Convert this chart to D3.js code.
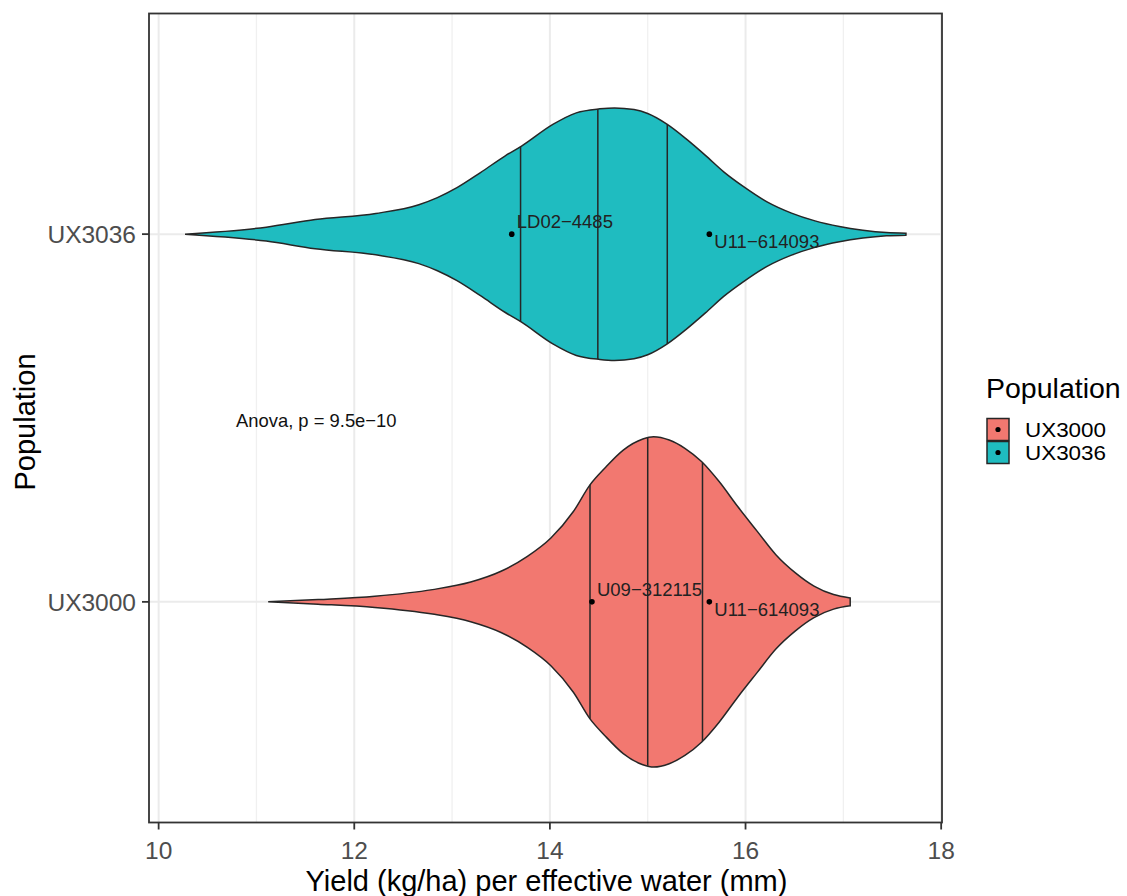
<!DOCTYPE html>
<html>
<head>
<meta charset="utf-8">
<script src="https://cdn.jsdelivr.net/npm/d3@7"></script>
<style>
  html, body { margin: 0; padding: 0; background: #fff; }
  svg { display: block; font-family: "Liberation Sans", Arial, Helvetica, sans-serif; }
</style>
</head>
<body>
<svg id="chart" width="1127" height="896"></svg>
<script>
// ---------------- data ----------------
const categories = ["UX3036", "UX3000"];          // top to bottom
const fillColors = ["#1FBCC0", "#F27870"];

// violin outlines: x value and scaled density (1 = widest violin)
const ux3036X = [10.27, 11.10, 11.60, 12.22, 12.66, 12.85, 13.05, 13.29, 13.54, 13.71, 14.03, 14.27, 14.51, 14.66, 14.86, 15.00, 15.20, 15.39, 15.59, 15.78, 15.98, 16.22, 16.47, 16.71, 16.96, 17.20, 17.44, 17.64];
const ux3036W = [0.000, 0.042, 0.088, 0.125, 0.178, 0.221, 0.281, 0.372, 0.472, 0.532, 0.663, 0.733, 0.757, 0.763, 0.753, 0.729, 0.663, 0.577, 0.476, 0.375, 0.287, 0.195, 0.127, 0.080, 0.046, 0.024, 0.010, 0.006];

const ux3000X = [11.12, 11.63, 12.21, 12.80, 13.19, 13.50, 13.77, 14.01, 14.24, 14.41, 14.56, 14.75, 14.95, 15.06, 15.22, 15.38, 15.55, 15.73, 15.92, 16.12, 16.31, 16.51, 16.70, 16.90, 17.07];
const ux3000W = [0.000, 0.014, 0.034, 0.074, 0.120, 0.185, 0.275, 0.386, 0.546, 0.707, 0.807, 0.917, 0.984, 0.998, 0.978, 0.928, 0.848, 0.727, 0.576, 0.426, 0.285, 0.175, 0.095, 0.044, 0.024];

const quantiles3036 = [13.70, 14.49, 15.20];
const quantiles3000 = [14.41, 15.00, 15.56];

const labelNames = ["LD02\u22124485", "U11\u2212614093", "U09\u2212312115", "U11\u2212614093"];
const labelPops  = ["UX3036", "UX3036", "UX3000", "UX3000"];
const labelVals  = [13.61, 15.63, 14.43, 15.63];
const labelSide  = ["above", "below", "above", "below"];

const xMajorTicks = [10, 12, 14, 16, 18];
const xMinorTicks = [11, 13, 15, 17];
const legendLabels = ["UX3000", "UX3036"];
const legendColors = ["#F27870", "#1FBCC0"];
const anovaText = "Anova, p = 9.5e\u221210";

// ---------------- layout ----------------
const svg = d3.select("#chart");
const P = { left: 149, top: 13.5, right: 942, bottom: 822.5 };

const allX = ux3036X.concat(ux3000X);
const xmin = d3.min(allX), xmax = d3.max(allX), pad = (xmax - xmin) * 0.05;
const x = d3.scaleLinear().domain([xmin - pad, xmax + pad]).range([P.left, P.right]);
const y = d3.scalePoint().domain(categories).range([P.top, P.bottom]).padding(0.6);
const halfMax = 0.45 * y.step();

// grid
const g = svg.append("g");
g.selectAll(".minor").data(xMinorTicks).enter().append("line")
  .attr("x1", d => x(d)).attr("x2", d => x(d)).attr("y1", P.top).attr("y2", P.bottom)
  .attr("stroke", "#F0F0F0").attr("stroke-width", 1.3);
g.selectAll(".major").data(xMajorTicks).enter().append("line")
  .attr("x1", d => x(d)).attr("x2", d => x(d)).attr("y1", P.top).attr("y2", P.bottom)
  .attr("stroke", "#EBEBEB").attr("stroke-width", 2);
g.selectAll(".ymajor").data(categories).enter().append("line")
  .attr("x1", P.left).attr("x2", P.right).attr("y1", d => y(d)).attr("y2", d => y(d))
  .attr("stroke", "#EBEBEB").attr("stroke-width", 2);

// violins
const violins = [
  { pop: "UX3036", xs: ux3036X, ws: ux3036W, q: quantiles3036, fill: fillColors[0] },
  { pop: "UX3000", xs: ux3000X, ws: ux3000W, q: quantiles3000, fill: fillColors[1] }
];
violins.forEach(v => {
  const cy = y(v.pop);
  const pts = v.xs.map((xv, i) => ({ v: xv, w: v.ws[i] }));
  const area = d3.area()
    .x(d => x(d.v))
    .y0(d => cy - d.w * halfMax)
    .y1(d => cy + d.w * halfMax)
    .curve(d3.curveMonotoneX);
  svg.append("path").attr("d", area(pts))
    .attr("fill", v.fill).attr("stroke", "#262626").attr("stroke-width", 1.5);
  const interp = val => {
    for (let i = 0; i < v.xs.length - 1; i++) {
      if (val >= v.xs[i] && val <= v.xs[i + 1]) {
        const t = (val - v.xs[i]) / (v.xs[i + 1] - v.xs[i]);
        return v.ws[i] + t * (v.ws[i + 1] - v.ws[i]);
      }
    }
    return 0;
  };
  svg.selectAll(null).data(v.q).enter().append("line")
    .attr("x1", d => x(d)).attr("x2", d => x(d))
    .attr("y1", d => cy - interp(d) * halfMax).attr("y2", d => cy + interp(d) * halfMax)
    .attr("stroke", "#262626").attr("stroke-width", 1.5);
});

// points and labels
labelNames.forEach((name, i) => {
  const px = x(labelVals[i]), py = y(labelPops[i]);
  svg.append("circle").attr("cx", px).attr("cy", py).attr("r", 2.8).attr("fill", "#000");
  svg.append("text").attr("x", px + 5).attr("y", labelSide[i] === "above" ? py - 6 : py + 14)
    .attr("font-size", 18.5).attr("fill", "#222").text(name);
});

// annotation
svg.append("text").attr("x", 236).attr("y", 427).attr("font-size", 18.4).attr("fill", "#111").text(anovaText);

// panel border
svg.append("rect").attr("x", P.left).attr("y", P.top)
  .attr("width", P.right - P.left).attr("height", P.bottom - P.top)
  .attr("fill", "none").attr("stroke", "#333").attr("stroke-width", 1.8);

// x axis
const xAxis = svg.append("g");
xAxis.selectAll("line").data(xMajorTicks).enter().append("line")
  .attr("x1", d => x(d)).attr("x2", d => x(d)).attr("y1", P.bottom).attr("y2", P.bottom + 7)
  .attr("stroke", "#333").attr("stroke-width", 1.8);
xAxis.selectAll("text").data(xMajorTicks).enter().append("text")
  .attr("x", d => x(d)).attr("y", 859).attr("text-anchor", "middle")
  .attr("font-size", 24.5).attr("fill", "#4D4D4D").text(d => d);
svg.append("text").attr("x", (P.left + P.right) / 2 + 1).attr("y", 891).attr("text-anchor", "middle")
  .attr("font-size", 29).attr("fill", "#000").text("Yield (kg/ha) per effective water (mm)");

// y axis
const yAxis = svg.append("g");
yAxis.selectAll("line").data(categories).enter().append("line")
  .attr("x1", P.left - 7).attr("x2", P.left).attr("y1", d => y(d)).attr("y2", d => y(d))
  .attr("stroke", "#333").attr("stroke-width", 1.8);
yAxis.selectAll("text").data(categories).enter().append("text")
  .attr("x", P.left - 13).attr("y", d => y(d)).attr("dy", "0.36em").attr("text-anchor", "end")
  .attr("font-size", 24.5).attr("fill", "#4D4D4D").text(d => d);
svg.append("text").attr("transform", `translate(35,${(P.top + P.bottom) / 2 + 4}) rotate(-90)`)
  .attr("text-anchor", "middle").attr("font-size", 29).attr("fill", "#000").text("Population");

// legend
const lg = svg.append("g");
lg.append("text").attr("x", 986).attr("y", 398).attr("font-size", 28.5).attr("fill", "#000").text("Population");
legendLabels.forEach((lab, i) => {
  const ky = 418.5 + i * 23;
  lg.append("rect").attr("x", 987).attr("y", ky).attr("width", 22).attr("height", 22)
    .attr("fill", legendColors[i]).attr("stroke", "#262626").attr("stroke-width", 1.5);
  lg.append("circle").attr("cx", 998).attr("cy", ky + 11).attr("r", 2.6).attr("fill", "#000");
  lg.append("text").attr("x", 1025).attr("y", ky + 11).attr("dy", "0.36em")
    .attr("font-size", 20).attr("textLength", 81).attr("lengthAdjust", "spacingAndGlyphs")
    .attr("fill", "#000").text(lab);
});
</script>
</body>
</html>
